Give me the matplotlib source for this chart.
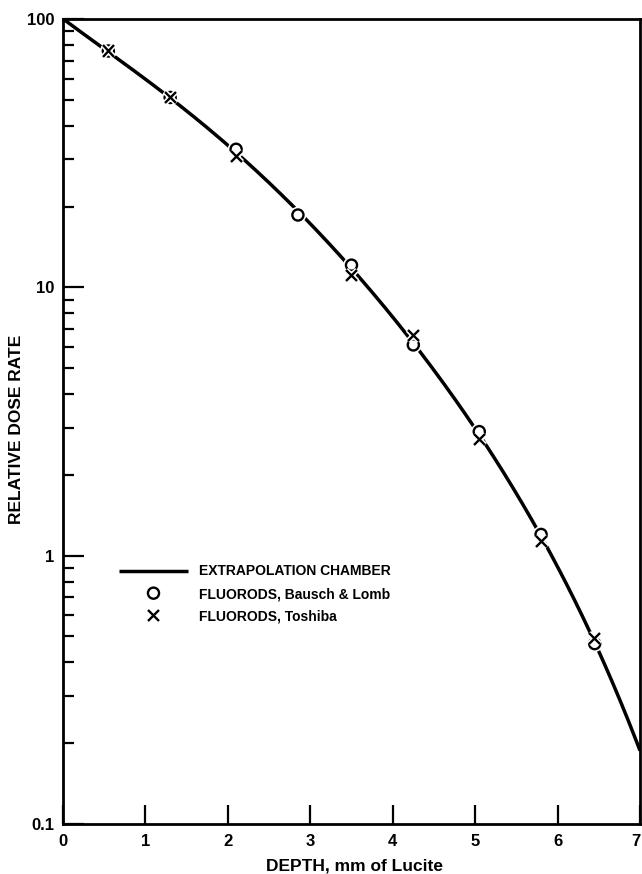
import numpy as np
import matplotlib
matplotlib.use("Agg")
import matplotlib.pyplot as plt
import matplotlib.patheffects as pe
from matplotlib.ticker import LogLocator, FixedLocator, NullFormatter, FixedFormatter

plt.rcParams['font.family'] = ['Liberation Sans', 'DejaVu Sans']

# Extrapolation chamber curve
curve_depth = [0.0, 0.5, 1.0, 1.5, 2.0, 2.5, 3.0, 3.5, 4.0, 4.5, 5.0, 5.5, 6.0, 6.5, 7.0]
curve_dose = [100, 77.6, 59.5, 45.5, 34.0, 24.5, 17.0, 11.7, 7.9, 5.0, 2.95, 1.66, 0.91, 0.45, 0.186]

# Fluorods, Bausch & Lomb
bl_depth = [0.55, 1.3, 2.1, 2.85, 3.5, 4.25, 5.05, 5.8, 6.45]
bl_dose = [76, 51, 32.7, 18.6, 12.1, 6.1, 2.9, 1.2, 0.47]

# Fluorods, Toshiba
tb_depth = [0.55, 1.3, 2.1, 3.5, 4.25, 5.05, 5.8, 6.45]
tb_dose = [76, 51, 30.8, 11.1, 6.6, 2.72, 1.13, 0.49]

xticks = [0, 1, 2, 3, 4, 5, 6, 7]
xtick_labels = ['0', '1', '2', '3', '4', '5', '6', '7']
yticks = [0.1, 1, 10, 100]
ytick_labels = ['0.1', '1', '10', '100']

fig = plt.figure(figsize=(6.42, 8.74), dpi=100)
ax = fig.add_axes([63/642, 1 - 824/874, (640-63)/642, (824-19)/874])

# smooth curve through read points (polynomial in log space)
xs = np.array(curve_depth)
ls = np.log10(np.array(curve_dose))
coef = np.polyfit(xs, ls, 5)
xf = np.linspace(0, 7, 300)
ax.plot(xf, 10**np.polyval(coef, xf), color='black', lw=2.5, solid_capstyle='butt',
        label='EXTRAPOLATION CHAMBER', zorder=2)
halo = [pe.Stroke(linewidth=4, foreground='white'), pe.Normal()]
ax.plot(bl_depth, bl_dose, ls='none', marker='o', ms=8, mfc='white', mec='black', mew=1.7,
        label='FLUORODS, Bausch & Lomb', zorder=3, path_effects=halo)
ax.plot(tb_depth, tb_dose, ls='none', marker='x', ms=8, mec='black', mew=1.7,
        label='FLUORODS, Toshiba', zorder=4, path_effects=halo)

ax.set_yscale('log')
ax.set_xlim(0, 7)
ax.set_ylim(0.1, 100)

for s in ax.spines.values():
    s.set_linewidth(2.0)
    s.set_zorder(5)

ax.xaxis.set_major_locator(FixedLocator(xticks))
ax.xaxis.set_major_formatter(FixedFormatter(xtick_labels))
ax.yaxis.set_major_locator(FixedLocator(yticks))
ax.yaxis.set_major_formatter(FixedFormatter(ytick_labels))
ax.yaxis.set_minor_locator(LogLocator(base=10, subs=np.arange(2, 10)))
ax.yaxis.set_minor_formatter(NullFormatter())

ax.tick_params(axis='x', which='major', direction='in', length=14, width=1.6,
               labelsize=12, pad=7)
ax.tick_params(axis='y', which='major', direction='in', length=15, width=1.6,
               labelsize=12, pad=6)
ax.tick_params(axis='y', which='minor', direction='in', length=8, width=1.6)
for lab in ax.get_xticklabels() + ax.get_yticklabels():
    lab.set_fontweight('bold')
ax.get_xticklabels()[-1].set_horizontalalignment('right')

ax.set_xlabel('DEPTH, mm of Lucite', fontsize=12.5, fontweight='bold')
ax.set_ylabel('RELATIVE DOSE RATE', fontsize=12.5, fontweight='bold')
ax.xaxis.set_label_coords(0.505, -0.043)
ax.yaxis.set_label_coords(-0.068, 0.49)

leg = ax.legend(loc='upper left', bbox_to_anchor=(0.075, 0.338), frameon=False,
                handlelength=5.0, handletextpad=0.8, labelspacing=0.62,
                prop={'weight': 'bold', 'size': 10})

fig.savefig('out.png', dpi=100, facecolor='white')
